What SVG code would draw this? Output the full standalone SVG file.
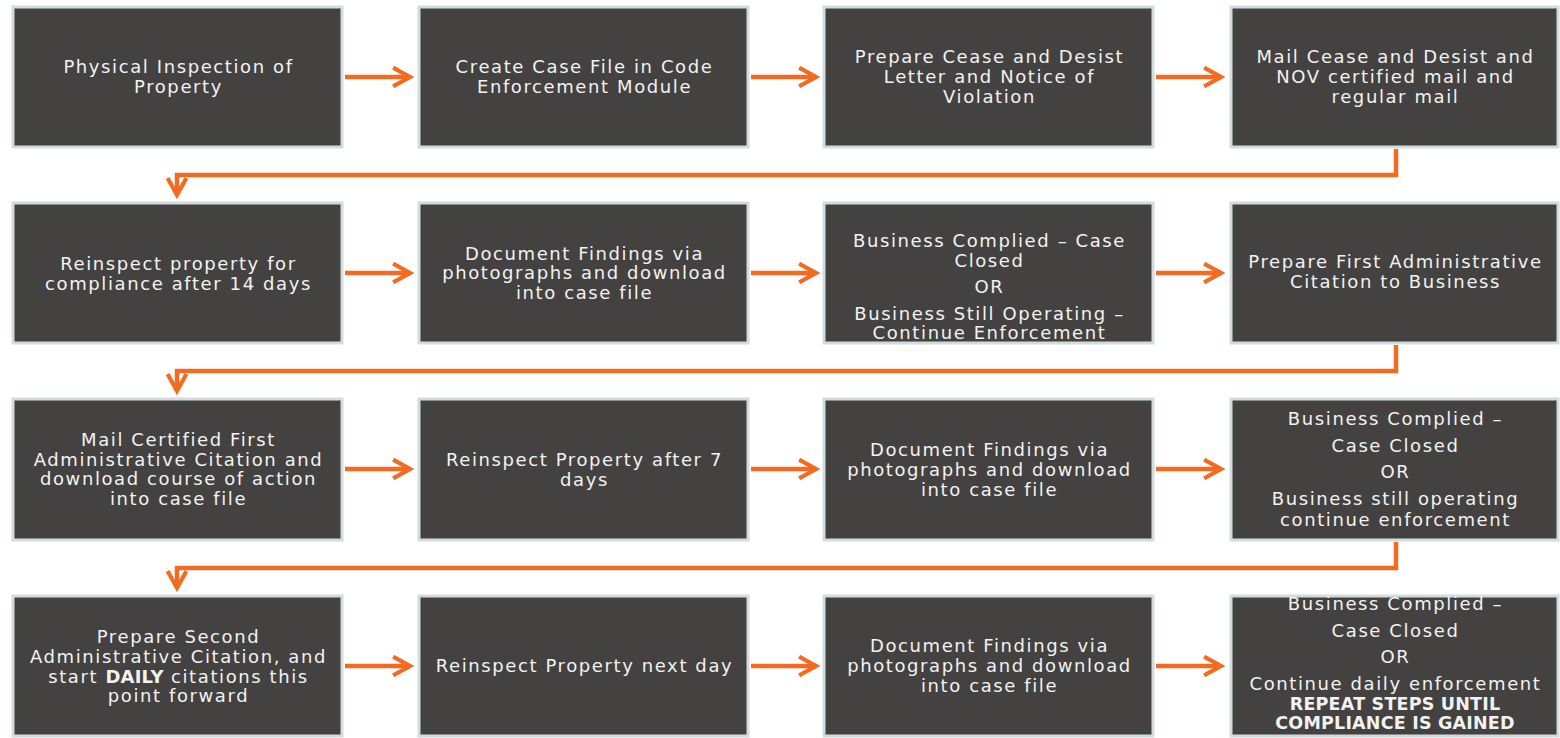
<svg xmlns="http://www.w3.org/2000/svg" width="1560" height="738" viewBox="0 0 1560 738">
<defs>
<style>
.box{fill:#434240;stroke:#d3dcdd;stroke-width:3}
.t{font-family:"DejaVu Sans","Liberation Sans",sans-serif;font-size:18px;letter-spacing:1.6px;fill:#f2f2f2;text-anchor:middle}
.b{font-weight:bold;letter-spacing:0.2px;font-size:17.5px}
.c{fill:none;stroke:#f26b21;stroke-width:4.5;stroke-linejoin:miter}
</style>
<marker id="ah" viewBox="0 0 12 12" refX="10" refY="6" markerWidth="5" markerHeight="5" markerUnits="strokeWidth" orient="auto">
<path d="M1,1 L10,6 L1,11" fill="none" stroke="#f26b21" stroke-width="2.2"/>
</marker>
</defs>
<rect width="1560" height="738" fill="#ffffff"/>
<g id="connectors">
<path class="c" d="M345,77 H410" marker-end="url(#ah)"/>
<path class="c" d="M751,77 H816" marker-end="url(#ah)"/>
<path class="c" d="M1156,77 H1221" marker-end="url(#ah)"/>
<path class="c" d="M1396,149 V175 H177 V195" marker-end="url(#ah)"/>
<path class="c" d="M345,273 H410" marker-end="url(#ah)"/>
<path class="c" d="M751,273 H816" marker-end="url(#ah)"/>
<path class="c" d="M1156,273 H1221" marker-end="url(#ah)"/>
<path class="c" d="M1396,345 V371 H177 V391" marker-end="url(#ah)"/>
<path class="c" d="M345,469 H410" marker-end="url(#ah)"/>
<path class="c" d="M751,469 H816" marker-end="url(#ah)"/>
<path class="c" d="M1156,469 H1221" marker-end="url(#ah)"/>
<path class="c" d="M1396,542 V568 H177 V588" marker-end="url(#ah)"/>
<path class="c" d="M345,666 H410" marker-end="url(#ah)"/>
<path class="c" d="M751,666 H816" marker-end="url(#ah)"/>
<path class="c" d="M1156,666 H1221" marker-end="url(#ah)"/>
</g>
<g id="n1"><rect class="box" x="13" y="7" width="329" height="140"/>
<text class="t"><tspan x="178.5" y="73">Physical Inspection of</tspan><tspan x="178.5" y="93">Property</tspan></text></g>
<g id="n2"><rect class="box" x="419" y="7" width="329" height="140"/>
<text class="t"><tspan x="584.5" y="73">Create Case File in Code</tspan><tspan x="584.5" y="93">Enforcement Module</tspan></text></g>
<g id="n3"><rect class="box" x="824" y="7" width="329" height="140"/>
<text class="t"><tspan x="989.5" y="63">Prepare Cease and Desist</tspan><tspan x="989.5" y="83">Letter and Notice of</tspan><tspan x="989.5" y="103">Violation</tspan></text></g>
<g id="n4"><rect class="box" x="1231" y="7" width="327" height="140"/>
<text class="t"><tspan x="1395.5" y="63">Mail Cease and Desist and</tspan><tspan x="1395.5" y="83">NOV certified mail and</tspan><tspan x="1395.5" y="103">regular mail</tspan></text></g>

<g id="n5"><rect class="box" x="13" y="203" width="329" height="140"/>
<text class="t"><tspan x="178.5" y="270">Reinspect property for</tspan><tspan x="178.5" y="290">compliance after 14 days</tspan></text></g>
<g id="n6"><rect class="box" x="419" y="203" width="329" height="140"/>
<text class="t"><tspan x="584.5" y="260">Document Findings via</tspan><tspan x="584.5" y="279">photographs and download</tspan><tspan x="584.5" y="299">into case file</tspan></text></g>
<g id="n7"><rect class="box" x="824" y="203" width="329" height="140"/>
<text class="t"><tspan x="989.5" y="247">Business Complied – Case</tspan><tspan x="989.5" y="267">Closed</tspan><tspan x="989.5" y="293">OR</tspan><tspan x="989.5" y="320">Business Still Operating –</tspan><tspan x="989.5" y="339">Continue Enforcement</tspan></text></g>
<g id="n8"><rect class="box" x="1231" y="203" width="327" height="140"/>
<text class="t"><tspan x="1395.5" y="268">Prepare First Administrative</tspan><tspan x="1395.5" y="288">Citation to Business</tspan></text></g>

<g id="n9"><rect class="box" x="13" y="399" width="329" height="141"/>
<text class="t"><tspan x="178.5" y="446">Mail Certified First</tspan><tspan x="178.5" y="466">Administrative Citation and</tspan><tspan x="178.5" y="485">download course of action</tspan><tspan x="178.5" y="505">into case file</tspan></text></g>
<g id="n10"><rect class="box" x="419" y="399" width="329" height="141"/>
<text class="t"><tspan x="584.5" y="466">Reinspect Property after 7</tspan><tspan x="584.5" y="486">days</tspan></text></g>
<g id="n11"><rect class="box" x="824" y="399" width="329" height="141"/>
<text class="t"><tspan x="989.5" y="456">Document Findings via</tspan><tspan x="989.5" y="476">photographs and download</tspan><tspan x="989.5" y="496">into case file</tspan></text></g>
<g id="n12"><rect class="box" x="1231" y="399" width="327" height="141"/>
<text class="t"><tspan x="1395.5" y="425">Business Complied –</tspan><tspan x="1395.5" y="452">Case Closed</tspan><tspan x="1395.5" y="478">OR</tspan><tspan x="1395.5" y="505">Business still operating</tspan><tspan x="1395.5" y="526">continue enforcement</tspan></text></g>

<g id="n13"><rect class="box" x="13" y="596" width="329" height="140"/>
<text class="t"><tspan x="178.5" y="643">Prepare Second</tspan><tspan x="178.5" y="663">Administrative Citation, and</tspan><tspan x="178.5" y="683">start <tspan class="b" style="font-size:18px">DAILY</tspan> citations this</tspan><tspan x="178.5" y="702">point forward</tspan></text></g>
<g id="n14"><rect class="box" x="419" y="596" width="329" height="140"/>
<text class="t"><tspan x="584.5" y="672">Reinspect Property next day</tspan></text></g>
<g id="n15"><rect class="box" x="824" y="596" width="329" height="140"/>
<text class="t"><tspan x="989.5" y="652">Document Findings via</tspan><tspan x="989.5" y="672">photographs and download</tspan><tspan x="989.5" y="692">into case file</tspan></text></g>
<g id="n16"><rect class="box" x="1231" y="596" width="327" height="140"/>
<text class="t"><tspan x="1395.5" y="610">Business Complied –</tspan><tspan x="1395.5" y="637">Case Closed</tspan><tspan x="1395.5" y="663">OR</tspan><tspan x="1395.5" y="690">Continue daily enforcement</tspan><tspan x="1395" y="709.5" class="b">REPEAT STEPS UNTIL</tspan><tspan x="1395" y="728.5" class="b">COMPLIANCE IS GAINED</tspan></text></g>
</svg>
